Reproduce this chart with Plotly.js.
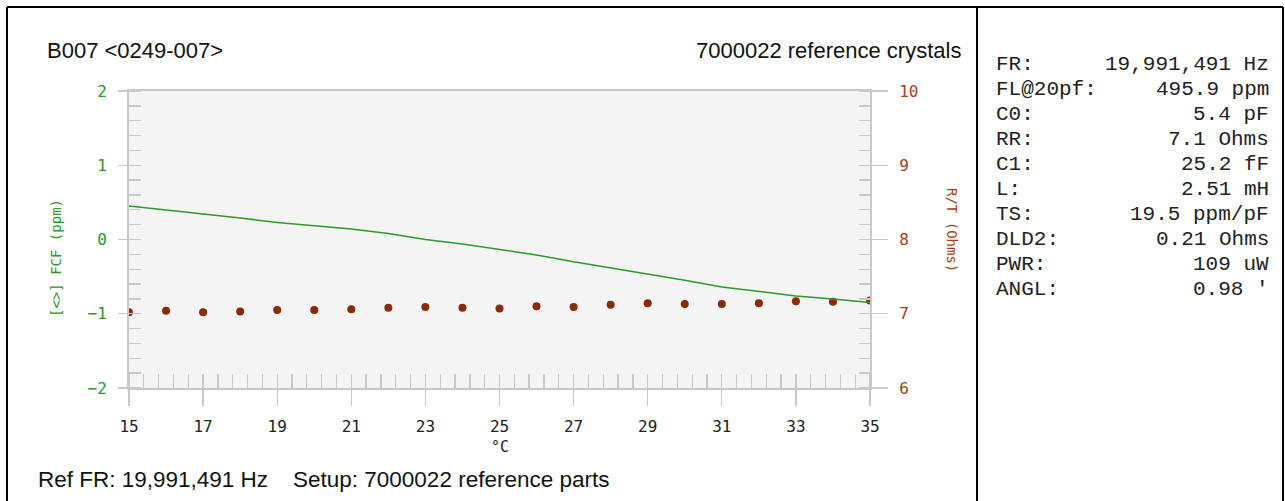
<!DOCTYPE html>
<html>
<head>
<meta charset="utf-8">
<script src="https://cdn.plot.ly/plotly-3.0.1.min.js"></script>
<style>
  html, body { margin: 0; padding: 0; background: #ffffff; }
  #chart { width: 1285px; height: 501px; }
</style>
</head>
<body>
<div id="chart"></div>
<script>
// ---------------- data ----------------
const temps = [15, 16, 17, 18, 19, 20, 21, 22, 23, 24, 25, 26, 27, 28, 29, 30, 31, 32, 33, 34, 35];
const fcfPpm = [0.45, 0.40, 0.35, 0.29, 0.23, 0.19, 0.14, 0.08, 0.00, -0.06, -0.13, -0.21, -0.30, -0.38, -0.46, -0.55, -0.64, -0.70, -0.76, -0.80, -0.85];
const rtOhms = [7.02, 7.04, 7.02, 7.03, 7.05, 7.05, 7.06, 7.08, 7.09, 7.08, 7.07, 7.10, 7.09, 7.12, 7.14, 7.13, 7.13, 7.14, 7.17, 7.16, 7.18];

const titleLeft = 'B007 &lt;0249-007&gt;';
const titleRight = '7000022 reference crystals';
const footerLeft = 'Ref FR: 19,991,491 Hz';
const footerRight = 'Setup: 7000022 reference parts';
const xTitle = '°C';
const leftAxisTitle = '[&lt;&gt;] FCF (ppm)';
const rightAxisTitle = 'R/T (Ohms)';

const panelLabels = ['FR:', 'FL@20pf:', 'C0:', 'RR:', 'C1:', 'L:', 'TS:', 'DLD2:', 'PWR:', 'ANGL:'];
const panelValues = ['19,991,491 Hz', '495.9 ppm', '5.4 pF', '7.1 Ohms', '25.2 fF', '2.51 mH', '19.5 ppm/pF', '0.21 Ohms', '109 uW', "0.98 '"];

// ---------------- geometry helpers (pixel -> paper) ----------------
const W = 1285, H = 501;
const L = 129, R = 870, T = 91, B = 388;
const px = x => (x - L) / (R - L);
const py = y => (B - y) / (B - T);

const GREEN = '#2b9a2b';
const GREEN_TXT = '#2a962a';
const BROWN = '#8a2a06';
const BROWN_TXT = '#a3401a';
const GRAY = '#c8c8c8';
const MONO = 'DejaVu Sans Mono, monospace';

const traces = [
  {
    x: temps, y: rtOhms, xaxis: 'x', yaxis: 'y',
    type: 'scatter', mode: 'markers',
    marker: { color: BROWN, size: 8, line: { width: 0 } },
    hoverinfo: 'skip', showlegend: false
  },
  {
    x: temps, y: fcfPpm, xaxis: 'x', yaxis: 'y2',
    type: 'scatter', mode: 'lines',
    line: { color: GREEN, width: 1.5 },
    hoverinfo: 'skip', showlegend: false
  }
];

const annotations = [];
function addText(text, x, y, xanchor, font, extra) {
  annotations.push(Object.assign({
    text: text, xref: 'paper', yref: 'paper', x: px(x), y: py(y),
    xanchor: xanchor, yanchor: 'middle', showarrow: false, font: font,
    borderpad: 0
  }, extra || {}));
}
const titleFont = { family: 'Liberation Sans, Arial, sans-serif', size: 22, color: '#111111' };
const footFont = { family: 'Liberation Sans, Arial, sans-serif', size: 22.5, color: '#111111' };
const panelFont = { family: 'Liberation Mono, Courier New, monospace', size: 21, color: '#222222' };

addText(titleLeft, 46, 50, 'left', titleFont);
addText(titleRight, 962, 50, 'right', titleFont);
addText(footerLeft, 37, 479, 'left', footFont);
addText(footerRight, 292, 479, 'left', footFont);
addText(xTitle, 500, 447, 'center', { family: MONO, size: 15, color: '#222222' });
addText(leftAxisTitle, 56, 258, 'center', { family: MONO, size: 14, color: GREEN_TXT }, { textangle: -90 });
addText(rightAxisTitle, 952, 230, 'center', { family: MONO, size: 14, color: BROWN_TXT }, { textangle: 90 });

panelLabels.forEach((lab, i) => {
  const yy = 64 + i * 25;
  addText(lab, 995, yy, 'left', panelFont);
  addText(panelValues[i], 1270, yy, 'right', panelFont);
});

const shapes = [
  // outer frame and separator
  { type: 'line', xref: 'paper', yref: 'paper', x0: px(7), x1: px(1283), y0: py(7), y1: py(7), line: { color: '#000', width: 2 } },
  { type: 'line', xref: 'paper', yref: 'paper', x0: px(7), x1: px(7), y0: py(7), y1: py(540), line: { color: '#000', width: 2 } },
  { type: 'line', xref: 'paper', yref: 'paper', x0: px(1283), x1: px(1283), y0: py(7), y1: py(540), line: { color: '#000', width: 2 } },
  { type: 'line', xref: 'paper', yref: 'paper', x0: px(977), x1: px(977), y0: py(7), y1: py(540), line: { color: '#000', width: 2 } }
];

const tickCommon = { showgrid: false, zeroline: false, tickcolor: GRAY, tickwidth: 1.3 };

const layout = {
  width: W, height: H,
  margin: { l: L, r: W - R, t: T, b: H - B, pad: 0 },
  paper_bgcolor: '#ffffff',
  plot_bgcolor: '#f4f4f4',
  showlegend: false,
  xaxis: Object.assign({}, tickCommon, {
    range: [15, 35], tick0: 15, dtick: 2,
    ticks: 'outside', ticklen: 16,
    minor: { ticks: 'inside', dtick: 0.4, tick0: 15, ticklen: 14, tickcolor: GRAY, tickwidth: 1.3 },
    showline: true, linecolor: GRAY, linewidth: 2, mirror: true,
    tickfont: { family: MONO, size: 16, color: '#222222' },
    ticklabelstandoff: 7
  }),
  xaxis2: Object.assign({}, tickCommon, {
    overlaying: 'x', anchor: 'y', side: 'bottom',
    range: [15, 35], tick0: 15, dtick: 2,
    ticks: 'inside', ticklen: 14, showticklabels: false, showline: false
  }),
  // R/T axis (right)
  yaxis: Object.assign({}, tickCommon, {
    side: 'right', range: [6, 10], tick0: 6, dtick: 1,
    ticks: 'outside', ticklen: 16,
    minor: { ticks: 'inside', dtick: 0.2, ticklen: 11, tickcolor: GRAY, tickwidth: 1.3 },
    showline: true, linecolor: GRAY, linewidth: 2,
    tickfont: { family: MONO, size: 16, color: BROWN_TXT },
    ticklabelstandoff: 8
  }),
  // FCF axis (left)
  yaxis2: Object.assign({}, tickCommon, {
    overlaying: 'y', side: 'left', anchor: 'x', range: [-2, 2], tick0: -2, dtick: 1,
    ticks: 'outside', ticklen: 9,
    minor: { ticks: 'inside', dtick: 0.2, ticklen: 12, tickcolor: GRAY, tickwidth: 1.3 },
    showline: true, linecolor: GRAY, linewidth: 2,
    tickfont: { family: MONO, size: 16, color: GREEN_TXT },
    ticklabelstandoff: 8
  }),
  yaxis3: Object.assign({}, tickCommon, {
    overlaying: 'y', side: 'left', anchor: 'x', range: [-2, 2], tick0: -2, dtick: 1,
    ticks: 'inside', ticklen: 12, showticklabels: false, showline: false
  }),
  yaxis4: Object.assign({}, tickCommon, {
    overlaying: 'y', side: 'right', anchor: 'x', range: [6, 10], tick0: 6, dtick: 1,
    ticks: 'inside', ticklen: 11, showticklabels: false, showline: false
  }),
  annotations: annotations,
  shapes: shapes
};

Plotly.newPlot('chart', traces, layout, { staticPlot: true, displayModeBar: false });
</script>
</body>
</html>
